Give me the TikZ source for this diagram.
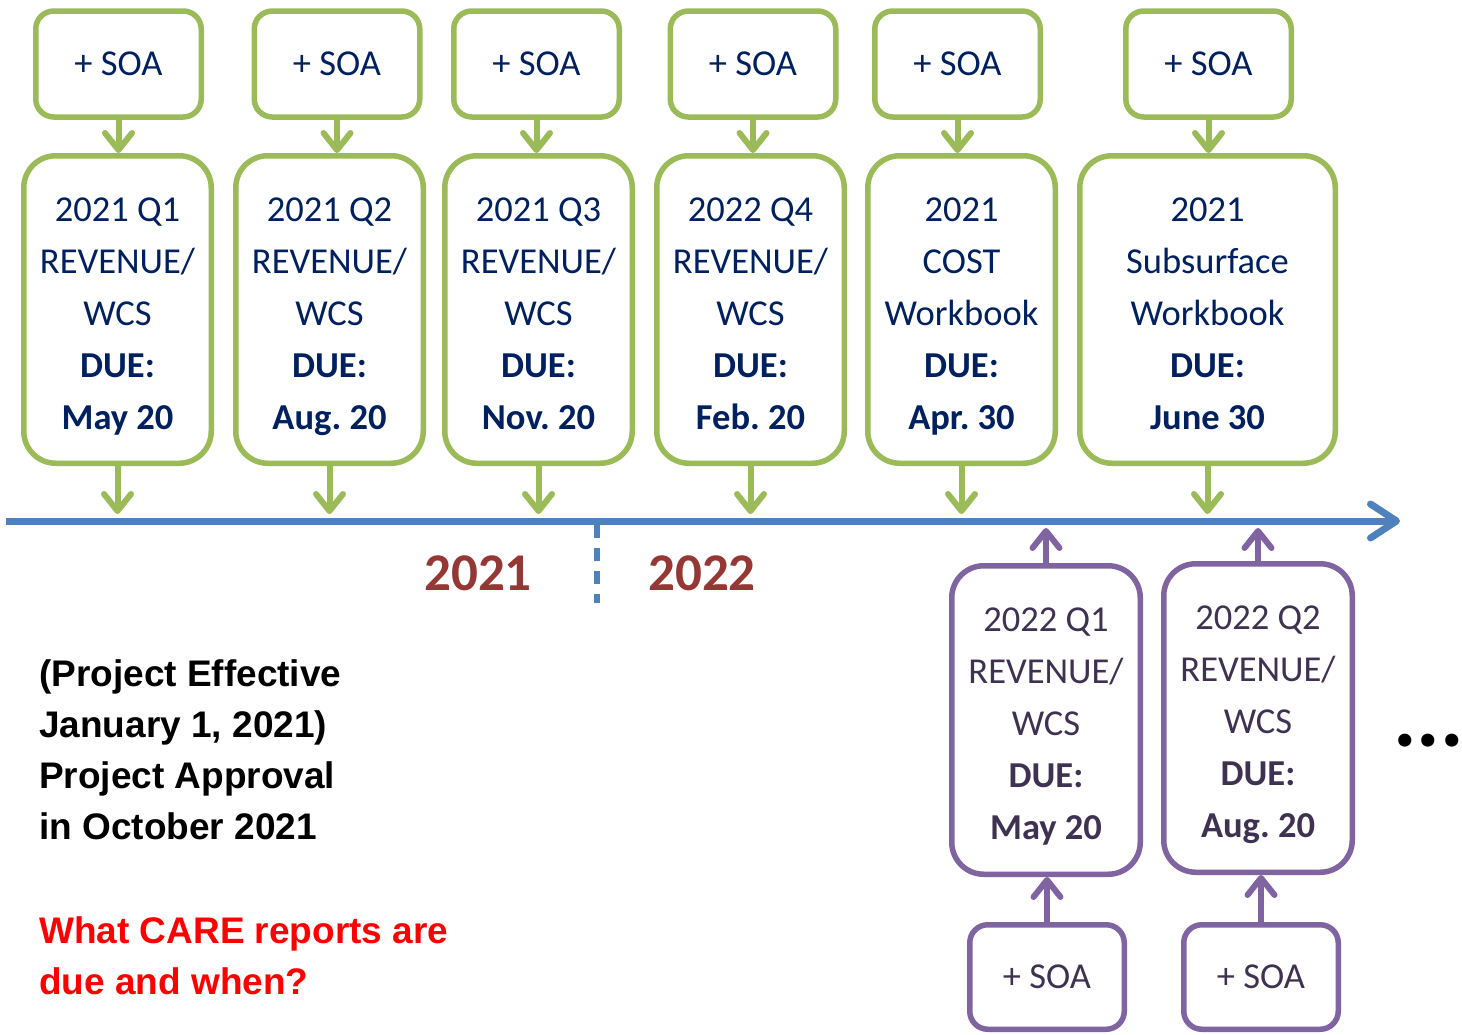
\documentclass[tikz,border=0pt]{standalone}
\usepackage{fontspec}
\setmainfont{Carlito}
\newfontfamily\arialfont{Liberation Sans}
\usetikzlibrary{arrows.meta}
\definecolor{grn}{HTML}{9BBB59}
\definecolor{navy}{HTML}{002060}
\definecolor{purp}{HTML}{8064A2}
\definecolor{purptext}{HTML}{3F3151}
\definecolor{axisblue}{HTML}{4F81BD}
\definecolor{yearred}{HTML}{953735}
\newcommand\firststrut{\rule{0pt}{40pt}}
\newcommand\laststrut{\rule[-9pt]{0pt}{9pt}}
\frenchspacing
\begin{document}
\begin{tikzpicture}[x=1pt,y=-1pt,
  boxfont/.style={font=\fontsize{36.5}{52}\selectfont},
  soabox/.style={draw=#1, line width=5.5pt, rounded corners=18pt, minimum height=106pt, inner sep=0pt, fill=white, boxfont},
  mainbox/.style={draw=#1, line width=5.5pt, rounded corners=32pt, inner sep=0pt, fill=white},
  boxtext/.style={align=center, inner sep=0pt, boxfont},
  garrow/.style={grn, line width=6pt, -{Straight Barb[length=17pt,width=27pt,round]}},
  parrow/.style={purp, line width=6pt, -{Straight Barb[length=17pt,width=27pt,round]}},
  axisline/.style={axisblue, line width=7pt, -{Straight Barb[length=26pt,width=34pt,round]}},
  yearlabel/.style={text=yearred, inner sep=0pt, font=\bfseries\fontsize{53}{60}\selectfont},
  sidetext/.style={anchor=north west, align=left, inner sep=0pt, font=\arialfont\bfseries\fontsize{37}{51}\selectfont}
]
\useasboundingbox (0,0) rectangle (1462,1034);

% axis
\coordinate (axL) at (6,521);
\coordinate (axR) at (1400,521);
\draw[axisline] (axL) -- (axR);
\coordinate (dvt) at (597,525);
\coordinate (dvb) at (597,603);
\draw[axisblue, line width=6pt, dash pattern=on 13pt off 10pt] (dvt) -- (dvb);
\coordinate (gtip) at (0,514);
\coordinate (ptip) at (0,528);

% green SOA boxes
\node[soabox=grn, text=navy, minimum width=165.5pt] (s1) at (118.5,64) {+ SOA};
\node[soabox=grn, text=navy, minimum width=165.5pt] (s2) at (337,64) {+ SOA};
\node[soabox=grn, text=navy, minimum width=165.5pt] (s3) at (536.5,64) {+ SOA};
\node[soabox=grn, text=navy, minimum width=165.5pt] (s4) at (753,64) {+ SOA};
\node[soabox=grn, text=navy, minimum width=165.5pt] (s5) at (957.5,64) {+ SOA};
\node[soabox=grn, text=navy, minimum width=165.5pt] (s6) at (1208.5,64) {+ SOA};

% green main boxes
\node[mainbox=grn, minimum width=187.5pt, minimum height=307.5pt] (m1) at (117.5,309.5) {};
\node[mainbox=grn, minimum width=187.5pt, minimum height=307.5pt] (m2) at (329.5,309.5) {};
\node[mainbox=grn, minimum width=187.5pt, minimum height=307.5pt] (m3) at (538.5,309.5) {};
\node[mainbox=grn, minimum width=187.5pt, minimum height=307.5pt] (m4) at (750.5,309.5) {};
\node[mainbox=grn, minimum width=187.5pt, minimum height=307.5pt] (m5) at (961.5,309.5) {};
\node[mainbox=grn, minimum width=255.5pt, minimum height=307.5pt] (m6) at (1207.5,309.5) {};

\node[boxtext, text=navy] (m1t) at (m1.center) {\firststrut 2021 Q1\\REVENUE/\\WCS\\\textbf{DUE:}\\\textbf{May 20}\laststrut};
\node[boxtext, text=navy] (m2t) at (m2.center) {\firststrut 2021 Q2\\REVENUE/\\WCS\\\textbf{DUE:}\\\textbf{Aug. 20}\laststrut};
\node[boxtext, text=navy] (m3t) at (m3.center) {\firststrut 2021 Q3\\REVENUE/\\WCS\\\textbf{DUE:}\\\textbf{Nov. 20}\laststrut};
\node[boxtext, text=navy] (m4t) at (m4.center) {\firststrut 2022 Q4\\REVENUE/\\WCS\\\textbf{DUE:}\\\textbf{Feb. 20}\laststrut};
\node[boxtext, text=navy] (m5t) at (m5.center) {\firststrut 2021\\COST\\Workbook\\\textbf{DUE:}\\\textbf{Apr. 30}\laststrut};
\node[boxtext, text=navy] (m6t) at (m6.center) {\firststrut 2021\\Subsurface\\Workbook\\\textbf{DUE:}\\\textbf{June 30}\laststrut};

% green arrows
\foreach \i in {1,...,6}{
  \draw[garrow] (s\i.south) -- (s\i.south |- m\i.north);
  \draw[garrow] (m\i.south) -- (m\i.south |- gtip);
}

% purple boxes
\node[mainbox=purp, minimum width=188.5pt, minimum height=308.5pt] (p1) at (1046,720) {};
\node[mainbox=purp, minimum width=188.5pt, minimum height=308.5pt] (p2) at (1258,718) {};
\node[boxtext, text=purptext] (p1t) at (p1.center) {\firststrut 2022 Q1\\REVENUE/\\WCS\\\textbf{DUE:}\\\textbf{May 20}\laststrut};
\node[boxtext, text=purptext] (p2t) at (p2.center) {\firststrut 2022 Q2\\REVENUE/\\WCS\\\textbf{DUE:}\\\textbf{Aug. 20}\laststrut};
\node[soabox=purp, text=purptext, minimum width=154.5pt, minimum height=104.5pt] (q1) at (1047,977) {+ SOA};
\node[soabox=purp, text=purptext, minimum width=154.5pt, minimum height=104.5pt] (q2) at (1261,977) {+ SOA};
\draw[parrow] (q1.north) -- (q1.north |- p1.south);
\draw[parrow] (q2.north) -- (q2.north |- p2.south);
\draw[parrow] (p1.north) -- (p1.north |- ptip);
\draw[parrow] (p2.north) -- (p2.north |- ptip);

% years
\node[yearlabel] (y1) at (478,573) {2021};
\node[yearlabel] (y2) at (702,573) {2022};

% side texts
\node[sidetext] (proj) at (39,659) {(Project Effective\\January 1, 2021)\\Project Approval\\in October 2021};
\node[sidetext, text=red] (quest) at (39,916) {What CARE reports are\\due and when?};

% ellipsis
\node[anchor=base west, inner sep=0pt, font=\bfseries\fontsize{88}{88}\selectfont] (dots) at (1393,746) {...};
\end{tikzpicture}
\end{document}
